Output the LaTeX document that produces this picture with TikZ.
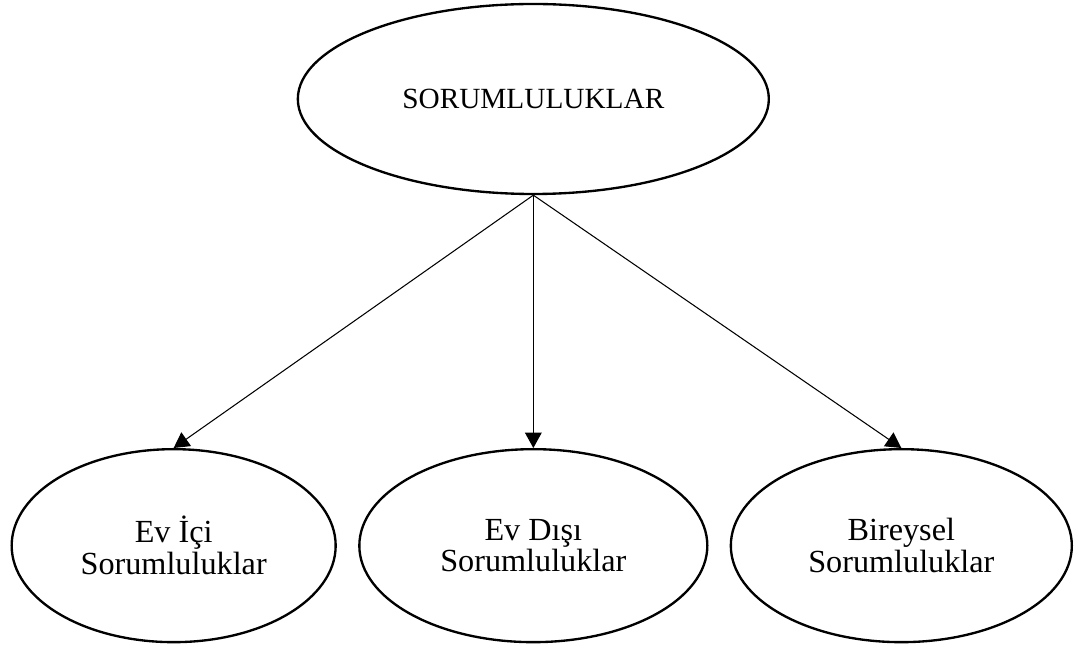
\documentclass[tikz,border=0pt]{standalone}
\usepackage{fontspec}
\setmainfont{Liberation Serif}
\usepackage{tikz}
\usetikzlibrary{shapes.geometric}
\usetikzlibrary{arrows.meta}

\begin{document}
\begin{tikzpicture}[line width=0.9pt,
  top/.style={ellipse,draw,line width=2pt,inner sep=0pt,minimum width=14.13cm,minimum height=5.7cm,font=\fontsize{25}{28}\selectfont},
  kid/.style={ellipse,draw,line width=2pt,inner sep=0pt,minimum height=5.79cm,align=center,font=\fontsize{27.5}{27}\selectfont},
  >={Triangle[length=0.46cm,width=0.5cm]}]

  \useasboundingbox (0,0) rectangle (32.46,-19.44);

  \node[top] at (16.0,-2.97) (sr){SORUMLULUKLAR};
  \node[kid,minimum width=9.72cm] at ([xshift=-10.79cm,yshift=-13.4cm]sr) (ic){Ev İçi\\Sorumluluklar};
  \node[kid,minimum width=10.44cm] at ([yshift=-13.4cm]sr) (dis){Ev Dışı\\Sorumluluklar};
  \node[kid,minimum width=10.23cm] at ([xshift=11.04cm,yshift=-13.4cm]sr) (bir){Bireysel\\Sorumluluklar};

  \draw [->] (sr.south) -- (ic.north);
  \draw [->] (sr.south) -- (dis.north);
  \draw [->] (sr.south) -- (bir.north);

\end{tikzpicture}
\end{document}
